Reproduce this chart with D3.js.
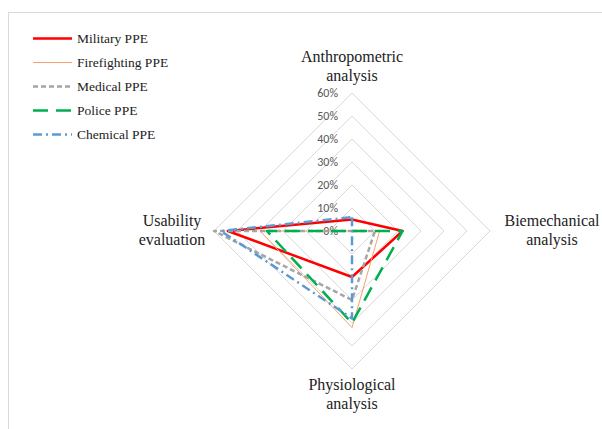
<!DOCTYPE html>
<html><head><meta charset="utf-8">
<script src="https://cdn.jsdelivr.net/npm/d3@7"></script>
<style>body{margin:0;background:#fff}svg{display:block}</style>
</head><body>
<svg id="c" width="602" height="429"></svg>
<script>
const axes = [["Anthropometric","analysis"],["Biemechanical","analysis"],["Physiological","analysis"],["Usability","evaluation"]];
const ticks = [0,0.1,0.2,0.3,0.4,0.5,0.6];
const seriesNames = ["Military PPE","Firefighting PPE","Medical PPE","Police PPE","Chemical PPE"];
const military = [0.05,0.22,0.20,0.54];
const firefighting = [0,0.12,0.42,0.40];
const medical = [0,0.10,0.30,0.60];
const police = [0,0.22,0.40,0.37];
const chemical = [0.06,0,0.38,0.57];
const values = [military,firefighting,medical,police,chemical];
const styles = [
  {color:"#ff0000",w:2.5,dash:null},
  {color:"#f4a26a",w:1,dash:null},
  {color:"#a5a5a5",w:2.5,dash:"5,3"},
  {color:"#00b050",w:2.5,dash:"15,8"},
  {color:"#5b9bd5",w:2.5,dash:"9,4,2,4"}
];
const svg = d3.select("#c");
svg.append("rect").attr("x",8.5).attr("y",12.5).attr("width",700).attr("height",500)
  .attr("fill","none").attr("stroke","#d9d9d9");
const cx=352, cy=231;
const r = d3.scaleLinear().domain([0,0.6]).range([0,138]);
const ang = i => i*Math.PI/2; // 0 at top, clockwise
const pt = (i,v) => [cx + r(v)*Math.sin(ang(i)), cy - r(v)*Math.cos(ang(i))];
const g = svg.append("g");
ticks.slice(1).forEach(t=>{
  g.append("path").attr("d", d3.line()(axes.map((a,i)=>pt(i,t))) + "Z")
    .attr("fill","none").attr("stroke","#d9d9d9").attr("stroke-width",1);
});
ticks.forEach(t=>{
  g.append("text").attr("x",cx-14).attr("y",cy-r(t)).attr("dy","0.35em")
    .attr("text-anchor","end").attr("font-family","Carlito, 'Liberation Sans', sans-serif")
    .attr("font-size",12).attr("fill","#595959").text(d3.format(".0%")(t));
});
values.forEach((vals,k)=>{
  const s=styles[k];
  g.append("path").attr("d", d3.line()(vals.map((v,i)=>pt(i,v)))+"Z")
    .attr("fill","none").attr("stroke",s.color).attr("stroke-width",s.w)
    .attr("stroke-dasharray",s.dash).attr("stroke-linejoin","round");
});
const labelPos = [[352,62],[552,226],[352,390],[172,226]];
axes.forEach((a,i)=>{
  const t = svg.append("text").attr("text-anchor","middle")
    .attr("font-family","'Liberation Serif', 'Times New Roman', serif").attr("font-size",16).attr("fill","#222");
  a.forEach((line,j)=>t.append("tspan").attr("x",labelPos[i][0]).attr("y",labelPos[i][1]+j*19).text(line));
});
const lg = svg.append("g");
seriesNames.forEach((n,k)=>{
  const y = 38.5 + k*24;
  const s=styles[k];
  lg.append("line").attr("x1",33).attr("x2",72).attr("y1",y).attr("y2",y)
    .attr("stroke",s.color).attr("stroke-width",s.w).attr("stroke-dasharray",s.dash);
  lg.append("text").attr("x",77).attr("y",y).attr("dy","0.35em")
    .attr("font-family","'Liberation Serif', 'Times New Roman', serif").attr("font-size",13.5).attr("fill","#222").text(n);
});
</script>
</body></html>
